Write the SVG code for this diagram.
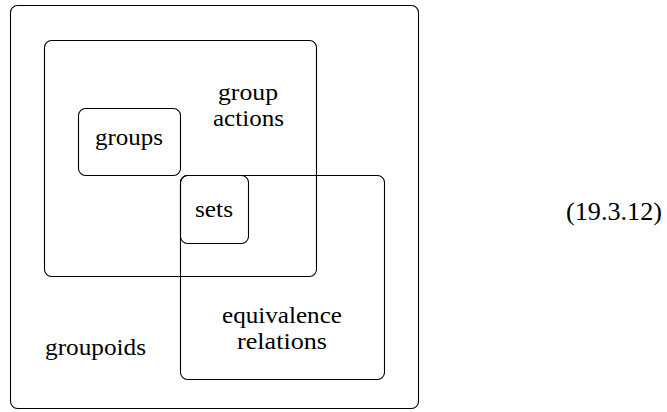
<svg xmlns="http://www.w3.org/2000/svg" width="667" height="412" viewBox="0 0 667 412">
<style>
.b{fill:none;stroke:#000;stroke-width:1.1}
svg text, g text, text{font-family:'Liberation Serif','Times New Roman',Times,serif !important;text-anchor:middle;fill:#000}
</style>
<rect width="667" height="412" fill="#fff"/>
<g id="groupoids"><rect class="b" x="10.5" y="5.5" width="408" height="403" rx="7"/><text x="95.5" y="355" font-family="'Liberation Serif'" font-size="23" textLength="101" lengthAdjust="spacingAndGlyphs">groupoids</text></g>
<g id="group-actions"><rect class="b" x="44.5" y="40.5" width="272" height="236" rx="7"/><text x="248" y="100" font-family="'Liberation Serif'" font-size="23" textLength="60" lengthAdjust="spacingAndGlyphs">group</text><text x="248.5" y="126" font-family="'Liberation Serif'" font-size="23" textLength="71" lengthAdjust="spacingAndGlyphs">actions</text></g>
<g id="groups"><rect class="b" x="78.5" y="108.5" width="102" height="67" rx="7"/><text x="129" y="145" font-family="'Liberation Serif'" font-size="23" textLength="68" lengthAdjust="spacingAndGlyphs">groups</text></g>
<g id="equivalence-relations"><rect class="b" x="180.5" y="175.5" width="204" height="204" rx="7"/><text x="282" y="323" font-family="'Liberation Serif'" font-size="23" textLength="120" lengthAdjust="spacingAndGlyphs">equivalence</text><text x="282" y="349" font-family="'Liberation Serif'" font-size="23" textLength="90" lengthAdjust="spacingAndGlyphs">relations</text></g>
<g id="sets"><rect class="b" x="180.5" y="175.5" width="68" height="68" rx="7"/><text x="214" y="217" font-family="'Liberation Serif'" font-size="23" textLength="38" lengthAdjust="spacingAndGlyphs">sets</text></g>
<g id="connectors"></g>
<text x="614" y="220" font-family="'Liberation Serif'" font-size="25" textLength="96" lengthAdjust="spacingAndGlyphs">(19.3.12)</text>
</svg>
